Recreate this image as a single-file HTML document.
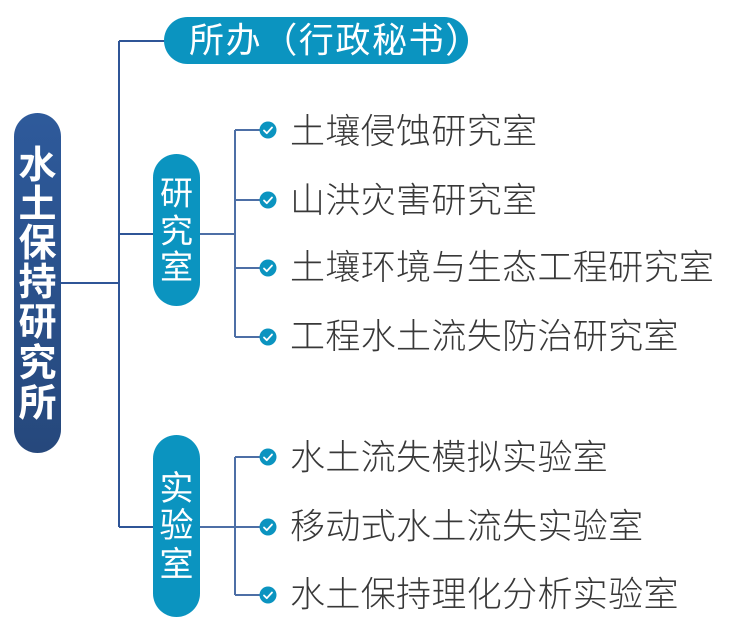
<!DOCTYPE html>
<html><head><meta charset="utf-8"><style>
html,body{margin:0;padding:0;background:#fff;}
svg{display:block;}
.it{font-family:"Liberation Sans","Noto Sans CJK SC",sans-serif;font-size:35px;fill:#383838;font-weight:300;letter-spacing:0.35px;}
.pw{font-family:"Liberation Sans","Noto Sans CJK SC",sans-serif;fill:#fff;}
</style></head><body>
<svg width="731" height="628" viewBox="0 0 731 628" xmlns="http://www.w3.org/2000/svg">
<defs>
<linearGradient id="rg" x1="0" y1="0" x2="0" y2="1">
<stop offset="0" stop-color="#2e5a9b"/><stop offset="1" stop-color="#26487c"/>
</linearGradient>
<g id="ck"><circle cx="0" cy="0" r="8.5" fill="#0b94c0"/><path d="M-4 0.5 L-1.2 3.2 L4 -2.5" stroke="#fff" stroke-width="1.8" fill="none" stroke-linecap="round" stroke-linejoin="round"/></g>
</defs>
<!-- main connectors -->
<g stroke="#2f5597" stroke-width="2" fill="none">
<path d="M61 283 H119"/>
<path d="M119 41 V527"/>
<path d="M119 41 H166"/>
<path d="M119 234 H154"/>
<path d="M119 527 H154"/>
</g>
<g stroke="#4d6fa6" stroke-width="2" fill="none">
<path d="M199 234 H235"/>
<path d="M235 130 V337"/>
<path d="M235 130 H262 M235 200 H262 M235 268 H262 M235 337 H262"/>
<path d="M199 527 H235"/>
<path d="M235 457 V595"/>
<path d="M235 457 H262 M235 595 H262"/>
<path d="M235 527 H262"/>
</g>
<!-- root -->
<rect x="14" y="113" width="47" height="340" rx="23.5" fill="url(#rg)"/>
<g class="pw" font-size="38" font-weight="bold" text-anchor="middle">
<text x="37.5" y="166" dominant-baseline="central">水</text>
<text x="37.5" y="205" dominant-baseline="central">土</text>
<text x="37.5" y="244" dominant-baseline="central">保</text>
<text x="37.5" y="283" dominant-baseline="central">持</text>
<text x="37.5" y="323" dominant-baseline="central">研</text>
<text x="37.5" y="364" dominant-baseline="central">究</text>
<text x="37.5" y="404" dominant-baseline="central">所</text>
</g>
<!-- top pill -->
<rect x="164" y="17" width="304" height="47" rx="23.5" fill="#0b94c0"/>
<text class="pw" x="189" y="41" font-size="35" letter-spacing="1.6" dominant-baseline="central">所办（行政秘书）</text>
<!-- 研究室 -->
<rect x="153" y="154" width="47" height="152" rx="23.5" fill="#0b94c0"/>
<g class="pw" font-size="33" text-anchor="middle">
<text x="176.5" y="193" dominant-baseline="central">研</text>
<text x="176.5" y="231" dominant-baseline="central">究</text>
<text x="176.5" y="267" dominant-baseline="central">室</text>
</g>
<!-- 实验室 -->
<rect x="153" y="435" width="47" height="182" rx="23.5" fill="#0b94c0"/>
<g class="pw" font-size="34" text-anchor="middle">
<text x="176.5" y="489" dominant-baseline="central">实</text>
<text x="176.5" y="526" dominant-baseline="central">验</text>
<text x="176.5" y="565" dominant-baseline="central">室</text>
</g>
<!-- checks -->
<use href="#ck" x="268" y="130"/>
<use href="#ck" x="268" y="200"/>
<use href="#ck" x="268" y="268"/>
<use href="#ck" x="268" y="337"/>
<use href="#ck" x="268" y="457"/>
<use href="#ck" x="268" y="527"/>
<use href="#ck" x="268" y="595"/>
<!-- items -->
<text class="it" x="290" y="132" dominant-baseline="central">土壤侵蚀研究室</text>
<text class="it" x="290" y="201" dominant-baseline="central">山洪灾害研究室</text>
<text class="it" x="290" y="268" dominant-baseline="central">土壤环境与生态工程研究室</text>
<text class="it" x="290" y="337" dominant-baseline="central">工程水土流失防治研究室</text>
<text class="it" x="290" y="458" dominant-baseline="central">水土流失模拟实验室</text>
<text class="it" x="290" y="527" dominant-baseline="central">移动式水土流失实验室</text>
<text class="it" x="290" y="595" dominant-baseline="central">水土保持理化分析实验室</text>
</svg>
</body></html>
